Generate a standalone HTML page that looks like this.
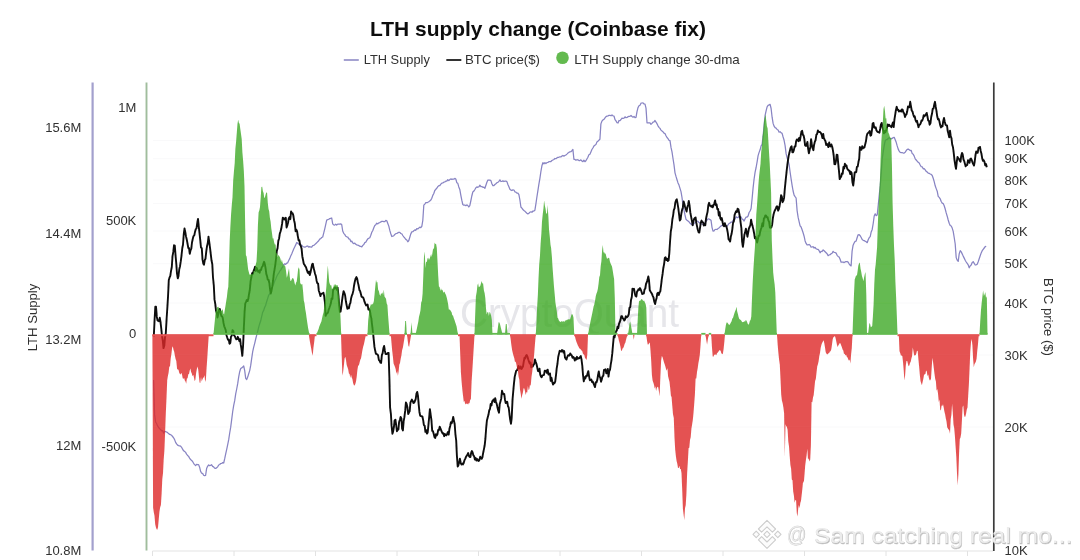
<!DOCTYPE html>
<html><head><meta charset="utf-8"><title>LTH supply change</title>
<style>
html,body{margin:0;padding:0;background:#fff;}
body{width:1080px;height:560px;overflow:hidden;position:relative;font-family:"Liberation Sans",sans-serif;}
svg{position:absolute;left:0;top:0;display:block}
text{font-family:"Liberation Sans",sans-serif;}
.ax{font-size:13px;fill:#303030;}
.lg{font-size:13px;fill:#303030;}
.ttl{font-size:21px;font-weight:700;fill:#111;}
.wm{font-size:40px;fill:#e6e6ea;}
.bw{font-size:22.5px;fill:#ececec;}
.bws{font-size:22.5px;fill:#b9b9b9;stroke:#c9c9c9;stroke-width:0.5px;}
</style></head><body>
<svg width="1080" height="560" viewBox="0 0 1080 560">
<defs><filter id="soft" x="-2%" y="-2%" width="104%" height="104%"><feGaussianBlur stdDeviation="0.55"/></filter></defs>
<rect width="1080" height="560" fill="#fff"/>
<g filter="url(#soft)">
<line x1="153" x2="993" y1="140.5" y2="140.5" stroke="#f9f9fa" stroke-width="1"/><line x1="153" x2="993" y1="158.75" y2="158.75" stroke="#f9f9fa" stroke-width="1"/><line x1="153" x2="993" y1="180" y2="180" stroke="#f9f9fa" stroke-width="1"/><line x1="153" x2="993" y1="203.5" y2="203.5" stroke="#f9f9fa" stroke-width="1"/><line x1="153" x2="993" y1="231" y2="231" stroke="#f9f9fa" stroke-width="1"/><line x1="153" x2="993" y1="263.75" y2="263.75" stroke="#f9f9fa" stroke-width="1"/><line x1="153" x2="993" y1="303" y2="303" stroke="#f9f9fa" stroke-width="1"/><line x1="153" x2="993" y1="355" y2="355" stroke="#f9f9fa" stroke-width="1"/><line x1="153" x2="993" y1="427" y2="427" stroke="#f9f9fa" stroke-width="1"/>
<line x1="152.5" x2="993" y1="551" y2="551" stroke="#e4e4e4" stroke-width="1.2"/>
<line x1="152.5" x2="152.5" y1="551" y2="556" stroke="#e2e2e2" stroke-width="1"/><line x1="234" x2="234" y1="551" y2="556" stroke="#e2e2e2" stroke-width="1"/><line x1="315.5" x2="315.5" y1="551" y2="556" stroke="#e2e2e2" stroke-width="1"/><line x1="397" x2="397" y1="551" y2="556" stroke="#e2e2e2" stroke-width="1"/><line x1="478.5" x2="478.5" y1="551" y2="556" stroke="#e2e2e2" stroke-width="1"/><line x1="560" x2="560" y1="551" y2="556" stroke="#e2e2e2" stroke-width="1"/><line x1="641.5" x2="641.5" y1="551" y2="556" stroke="#e2e2e2" stroke-width="1"/><line x1="723" x2="723" y1="551" y2="556" stroke="#e2e2e2" stroke-width="1"/><line x1="804.5" x2="804.5" y1="551" y2="556" stroke="#e2e2e2" stroke-width="1"/><line x1="886" x2="886" y1="551" y2="556" stroke="#e2e2e2" stroke-width="1"/><line x1="967.5" x2="967.5" y1="551" y2="556" stroke="#e2e2e2" stroke-width="1"/>
<text x="460" y="327" class="wm" textLength="219" lengthAdjust="spacingAndGlyphs">CryptoQuant</text>
<path d="M153.6,380.0 L154.6,414.6 L155.6,422.0 L156.6,423.5 L157.6,425.9 L158.6,427.3 L159.6,428.8 L160.6,429.5 L161.6,430.8 L162.6,430.6 L163.6,433.1 L164.6,431.4 L165.6,431.7 L166.6,432.0 L167.6,432.6 L168.6,433.6 L169.6,434.4 L170.6,434.7 L171.6,435.3 L172.6,436.5 L173.6,437.8 L174.6,439.6 L175.6,442.4 L176.6,443.9 L177.6,445.1 L178.6,445.6 L179.6,445.8 L180.6,446.2 L181.6,447.3 L182.6,449.2 L183.6,450.8 L184.6,451.4 L185.6,452.4 L186.6,454.1 L187.6,455.5 L188.6,456.4 L189.6,458.1 L190.6,459.6 L191.6,460.4 L192.6,461.5 L193.6,463.3 L194.6,464.6 L195.6,465.5 L196.6,464.4 L197.6,464.7 L198.6,464.6 L199.6,467.2 L200.6,471.3 L201.6,473.2 L202.6,473.4 L203.6,475.2 L204.6,475.7 L205.6,475.3 L206.6,468.6 L207.6,466.3 L208.6,465.0 L209.6,465.6 L210.6,465.4 L211.6,464.7 L212.6,466.4 L213.6,466.9 L214.6,468.1 L215.6,468.3 L216.6,467.9 L217.6,466.8 L218.7,465.0 L219.7,464.5 L220.7,463.5 L221.7,463.4 L222.7,462.6 L223.7,463.0 L224.7,458.7 L225.7,453.9 L226.7,449.4 L227.7,444.6 L228.7,439.7 L229.7,433.0 L230.7,427.2 L231.7,419.3 L232.7,411.5 L233.7,405.4 L234.7,400.7 L235.7,393.9 L236.7,389.0 L237.7,383.7 L238.7,376.8 L239.7,371.7 L240.7,368.5 L241.7,367.9 L242.7,367.1 L243.7,366.0 L244.7,370.7 L245.7,378.4 L246.7,379.5 L247.7,377.1 L248.7,373.8 L249.7,370.6 L250.7,365.4 L251.7,358.3 L252.7,351.6 L253.7,347.1 L254.7,343.3 L255.7,339.0 L256.7,335.1 L257.7,331.3 L258.7,327.1 L259.7,323.7 L260.7,320.8 L261.7,316.4 L262.7,312.2 L263.7,310.4 L264.7,307.3 L265.7,305.2 L266.7,301.5 L267.7,298.4 L268.7,295.2 L269.7,294.0 L270.7,292.1 L271.7,288.2 L272.7,285.9 L273.7,284.1 L274.7,281.1 L275.7,279.0 L276.7,276.5 L277.7,274.4 L278.7,273.1 L279.7,271.2 L280.7,270.1 L281.7,268.1 L282.7,267.0 L283.7,264.5 L284.7,263.9 L285.7,264.4 L286.7,263.2 L287.7,262.8 L288.7,260.5 L289.7,258.6 L290.7,256.0 L291.7,254.0 L292.7,251.4 L293.7,249.0 L294.7,246.9 L295.7,244.9 L296.7,242.5 L297.7,243.3 L298.7,244.1 L299.7,244.9 L300.7,245.2 L301.7,245.1 L302.7,246.5 L303.7,246.8 L304.7,247.1 L305.7,246.8 L306.7,246.2 L307.7,246.0 L308.7,247.2 L309.7,246.6 L310.7,247.0 L311.7,247.0 L312.7,245.7 L313.7,245.5 L314.7,244.6 L315.7,243.7 L316.7,242.8 L317.7,241.7 L318.7,240.8 L319.7,239.1 L320.7,238.7 L321.7,237.5 L322.7,237.0 L323.7,233.2 L324.7,229.2 L325.7,224.7 L326.7,220.1 L327.7,219.7 L328.7,219.2 L329.7,218.6 L330.7,218.3 L331.7,218.0 L332.7,223.8 L333.7,224.9 L334.7,225.1 L335.7,224.1 L336.7,225.0 L337.7,224.1 L338.7,224.0 L339.7,224.1 L340.7,223.9 L341.7,224.5 L342.7,231.0 L343.7,233.3 L344.7,234.4 L345.8,236.3 L346.8,236.8 L347.8,237.2 L348.8,238.8 L349.8,239.1 L350.8,241.6 L351.8,241.1 L352.8,243.0 L353.8,243.6 L354.8,243.1 L355.8,244.3 L356.8,245.0 L357.8,245.2 L358.8,245.6 L359.8,246.3 L360.8,246.4 L361.8,246.8 L362.8,245.4 L363.8,244.5 L364.8,242.6 L365.8,242.2 L366.8,240.4 L367.8,238.9 L368.8,238.3 L369.8,237.7 L370.8,235.3 L371.8,232.3 L372.8,230.5 L373.8,227.7 L374.8,225.5 L375.8,224.7 L376.8,223.2 L377.8,223.9 L378.8,222.9 L379.8,222.6 L380.8,221.9 L381.8,221.4 L382.8,221.3 L383.8,221.6 L384.8,221.6 L385.8,220.4 L386.8,220.8 L387.8,223.5 L388.8,226.1 L389.8,230.4 L390.8,233.8 L391.8,236.5 L392.8,236.2 L393.8,235.7 L394.8,234.5 L395.8,233.6 L396.8,233.5 L397.8,232.9 L398.8,232.3 L399.8,232.3 L400.8,233.5 L401.8,233.8 L402.8,235.5 L403.8,236.9 L404.8,238.0 L405.8,239.4 L406.8,240.0 L407.8,241.8 L408.8,240.5 L409.8,237.2 L410.8,233.9 L411.8,231.9 L412.8,231.7 L413.8,230.8 L414.8,229.9 L415.8,230.3 L416.8,228.6 L417.8,228.9 L418.8,228.1 L419.8,227.1 L420.8,227.7 L421.8,226.3 L422.8,220.5 L423.8,205.2 L424.8,204.1 L425.8,202.7 L426.8,202.6 L427.8,202.3 L428.8,201.8 L429.8,200.9 L430.8,200.1 L431.8,198.2 L432.8,195.4 L433.8,193.5 L434.8,190.5 L435.8,189.3 L436.8,188.3 L437.8,186.6 L438.8,185.7 L439.8,185.7 L440.8,184.1 L441.8,183.2 L442.8,183.0 L443.8,182.2 L444.8,182.0 L445.8,181.1 L446.8,181.1 L447.8,179.7 L448.8,180.6 L449.8,179.6 L450.8,178.9 L451.8,179.4 L452.8,179.1 L453.8,179.2 L454.8,178.4 L455.8,179.0 L456.8,182.7 L457.8,183.3 L458.8,186.9 L459.8,189.4 L460.8,195.1 L461.8,200.2 L462.8,204.5 L463.8,205.2 L464.8,205.0 L465.8,205.7 L466.8,204.9 L467.8,205.5 L468.8,207.0 L469.8,205.6 L470.8,201.0 L471.8,196.0 L472.8,192.0 L473.9,191.1 L474.9,189.5 L475.9,187.8 L476.9,186.9 L477.9,187.3 L478.9,186.8 L479.9,185.2 L480.9,186.6 L481.9,186.5 L482.9,187.4 L483.9,187.2 L484.9,188.3 L485.9,185.3 L486.9,182.3 L487.9,180.1 L488.9,180.0 L489.9,180.2 L490.9,180.6 L491.9,183.7 L492.9,185.6 L493.9,185.7 L494.9,184.5 L495.9,183.7 L496.9,182.7 L497.9,182.2 L498.9,181.5 L499.9,179.8 L500.9,181.5 L501.9,181.3 L502.9,180.9 L503.9,181.5 L504.9,181.2 L505.9,181.2 L506.9,181.6 L507.9,184.5 L508.9,186.8 L509.9,189.2 L510.9,190.1 L511.9,190.5 L512.9,189.9 L513.9,190.0 L514.9,191.8 L515.9,192.1 L516.9,193.1 L517.9,193.2 L518.9,194.7 L519.9,200.0 L520.9,207.0 L521.9,208.2 L522.9,209.5 L523.9,210.5 L524.9,211.2 L525.9,212.3 L526.9,213.2 L527.9,213.9 L528.9,213.3 L529.9,212.3 L530.9,211.8 L531.9,212.3 L532.9,211.0 L533.9,211.0 L534.9,210.2 L535.9,203.8 L536.9,197.0 L537.9,190.7 L538.9,184.2 L539.9,178.4 L540.9,171.5 L541.9,165.8 L542.9,162.7 L543.9,163.9 L544.9,162.6 L545.9,163.5 L546.9,162.6 L547.9,162.5 L548.9,161.6 L549.9,161.5 L550.9,161.5 L551.9,160.5 L552.9,160.0 L553.9,159.5 L554.9,158.5 L555.9,158.7 L556.9,157.9 L557.9,157.3 L558.9,157.3 L559.9,156.8 L560.9,156.9 L561.9,156.1 L562.9,155.5 L563.9,156.1 L564.9,155.5 L565.9,155.0 L566.9,154.1 L567.9,153.1 L568.9,152.4 L569.9,151.8 L570.9,151.7 L571.9,150.7 L572.9,149.4 L573.9,159.3 L574.9,159.4 L575.9,160.2 L576.9,159.7 L577.9,159.8 L578.9,160.5 L579.9,160.5 L580.9,159.8 L581.9,161.0 L582.9,161.7 L583.9,160.2 L584.9,161.7 L585.9,160.7 L586.9,159.0 L587.9,157.3 L588.9,154.8 L589.9,154.2 L590.9,151.9 L591.9,149.5 L592.9,148.0 L593.9,146.1 L594.9,145.3 L595.9,144.6 L596.9,142.0 L597.9,141.3 L598.9,140.2 L599.9,139.3 L600.9,123.9 L601.9,121.2 L603.0,119.9 L604.0,119.3 L605.0,117.8 L606.0,116.6 L607.0,116.1 L608.0,115.8 L609.0,115.4 L610.0,115.3 L611.0,115.8 L612.0,114.9 L613.0,115.9 L614.0,116.0 L615.0,119.6 L616.0,120.9 L617.0,122.7 L618.0,123.0 L619.0,120.5 L620.0,120.6 L621.0,119.5 L622.0,118.1 L623.0,118.5 L624.0,118.2 L625.0,116.8 L626.0,117.7 L627.0,117.5 L628.0,116.7 L629.0,116.3 L630.0,116.4 L631.0,115.5 L632.0,116.5 L633.0,117.2 L634.0,116.4 L635.0,117.7 L636.0,117.3 L637.0,111.7 L638.0,107.6 L639.0,105.8 L640.0,105.2 L641.0,103.2 L642.0,103.0 L643.0,102.8 L644.0,104.0 L645.0,104.2 L646.0,108.1 L647.0,122.8 L648.0,122.9 L649.0,122.9 L650.0,122.9 L651.0,124.3 L652.0,123.4 L653.0,122.2 L654.0,121.8 L655.0,120.5 L656.0,122.1 L657.0,123.7 L658.0,125.8 L659.0,127.3 L660.0,128.4 L661.0,130.1 L662.0,131.1 L663.0,131.8 L664.0,133.2 L665.0,133.6 L666.0,135.7 L667.0,137.5 L668.0,138.6 L669.0,140.3 L670.0,140.7 L671.0,147.4 L672.0,151.9 L673.0,158.5 L674.0,164.9 L675.0,172.8 L676.0,176.4 L677.0,179.7 L678.0,182.9 L679.0,185.1 L680.0,188.4 L681.0,191.6 L682.0,197.5 L683.0,205.6 L684.0,210.2 L685.0,215.0 L686.0,219.3 L687.0,220.2 L688.0,221.0 L689.0,221.8 L690.0,223.2 L691.0,224.0 L692.0,224.9 L693.0,225.1 L694.0,223.2 L695.0,222.9 L696.0,222.4 L697.0,221.0 L698.0,221.3 L699.0,222.6 L700.0,223.3 L701.0,223.9 L702.0,224.0 L703.0,224.5 L704.0,225.0 L705.0,222.7 L706.0,221.4 L707.0,220.1 L708.0,218.8 L709.0,219.0 L710.0,219.6 L711.0,220.2 L712.0,227.3 L713.0,231.1 L714.0,230.9 L715.0,229.5 L716.0,229.4 L717.0,229.5 L718.0,228.6 L719.0,227.9 L720.0,226.9 L721.0,226.0 L722.0,225.4 L723.0,224.7 L724.0,225.6 L725.0,226.6 L726.0,226.1 L727.0,226.2 L728.0,224.9 L729.0,223.5 L730.0,223.1 L731.1,222.0 L732.1,222.0 L733.1,220.2 L734.1,220.3 L735.1,219.0 L736.1,216.8 L737.1,217.6 L738.1,217.6 L739.1,216.2 L740.1,216.8 L741.1,216.9 L742.1,219.1 L743.1,219.6 L744.1,221.1 L745.1,218.7 L746.1,217.0 L747.1,217.0 L748.1,216.0 L749.1,212.5 L750.1,211.0 L751.1,208.5 L752.1,198.7 L753.1,187.9 L754.1,179.0 L755.1,172.2 L756.1,167.5 L757.1,161.9 L758.1,155.6 L759.1,152.4 L760.1,149.8 L761.1,145.9 L762.1,144.4 L763.1,136.2 L764.1,125.1 L765.1,115.4 L766.1,110.8 L767.1,106.8 L768.1,105.4 L769.1,104.9 L770.1,104.3 L771.1,108.5 L772.1,117.2 L773.1,123.4 L774.1,126.2 L775.1,127.7 L776.1,128.1 L777.1,129.5 L778.1,130.0 L779.1,132.2 L780.1,131.7 L781.1,132.8 L782.1,133.4 L783.1,137.0 L784.1,140.3 L785.1,145.7 L786.1,153.7 L787.1,157.8 L788.1,160.7 L789.1,164.7 L790.1,172.0 L791.1,178.8 L792.1,185.3 L793.1,191.0 L794.1,195.1 L795.1,196.6 L796.1,198.0 L797.1,210.6 L798.1,217.2 L799.1,221.6 L800.1,225.9 L801.1,227.0 L802.1,229.8 L803.1,232.8 L804.1,236.2 L805.1,240.9 L806.1,243.4 L807.1,244.9 L808.1,244.9 L809.1,244.5 L810.1,245.2 L811.1,247.1 L812.1,247.0 L813.1,246.7 L814.1,248.1 L815.1,247.3 L816.1,248.8 L817.1,249.3 L818.1,249.3 L819.1,250.7 L820.1,252.8 L821.1,251.3 L822.1,251.5 L823.1,249.9 L824.1,250.8 L825.1,251.8 L826.1,252.8 L827.1,253.8 L828.1,255.6 L829.1,255.0 L830.1,254.7 L831.1,253.7 L832.1,253.2 L833.1,251.3 L834.1,252.4 L835.1,252.5 L836.1,253.1 L837.1,255.3 L838.1,256.4 L839.1,257.1 L840.1,259.3 L841.1,262.2 L842.1,262.0 L843.1,262.0 L844.1,262.6 L845.1,261.9 L846.1,261.6 L847.1,261.5 L848.1,262.1 L849.1,263.8 L850.1,265.2 L851.1,265.9 L852.1,251.1 L853.1,245.2 L854.1,243.0 L855.1,241.4 L856.1,241.1 L857.1,237.8 L858.1,234.8 L859.2,234.7 L860.2,235.7 L861.2,237.5 L862.2,239.6 L863.2,240.3 L864.2,240.6 L865.2,241.2 L866.2,241.8 L867.2,242.7 L868.2,239.8 L869.2,237.7 L870.2,236.6 L871.2,231.9 L872.2,229.4 L873.2,223.5 L874.2,216.0 L875.2,213.8 L876.2,215.6 L877.2,215.0 L878.2,205.5 L879.2,195.5 L880.2,185.9 L881.2,172.9 L882.2,158.8 L883.2,151.9 L884.2,145.7 L885.2,140.6 L886.2,139.7 L887.2,139.7 L888.2,138.5 L889.2,137.6 L890.2,138.7 L891.2,138.9 L892.2,138.4 L893.2,137.6 L894.2,137.3 L895.2,139.7 L896.2,142.3 L897.2,145.9 L898.2,149.1 L899.2,151.1 L900.2,152.3 L901.2,152.6 L902.2,152.7 L903.2,153.0 L904.2,153.0 L905.2,152.3 L906.2,150.6 L907.2,149.3 L908.2,149.1 L909.2,149.8 L910.2,150.6 L911.2,150.4 L912.2,153.6 L913.2,154.3 L914.2,156.1 L915.2,158.8 L916.2,160.0 L917.2,161.2 L918.2,162.2 L919.2,163.0 L920.2,165.0 L921.2,166.7 L922.2,166.8 L923.2,168.8 L924.2,168.7 L925.2,169.9 L926.2,171.4 L927.2,172.0 L928.2,173.1 L929.2,173.3 L930.2,174.0 L931.2,174.4 L932.2,175.5 L933.2,178.2 L934.2,181.6 L935.2,185.8 L936.2,188.6 L937.2,191.2 L938.2,196.4 L939.2,197.4 L940.2,198.8 L941.2,201.5 L942.2,203.1 L943.2,203.6 L944.2,205.7 L945.2,209.0 L946.2,212.9 L947.2,216.2 L948.2,220.0 L949.2,223.3 L950.2,225.5 L951.2,226.0 L952.2,228.1 L953.2,231.4 L954.2,237.5 L955.2,244.0 L956.2,257.6 L957.2,260.2 L958.2,261.4 L959.2,253.9 L960.2,250.6 L961.2,251.9 L962.2,253.9 L963.2,256.1 L964.2,258.1 L965.2,260.2 L966.2,262.0 L967.2,263.4 L968.2,264.9 L969.2,267.8 L970.2,265.9 L971.2,265.0 L972.2,262.5 L973.2,261.7 L974.2,263.3 L975.2,265.0 L976.2,264.8 L977.2,264.2 L978.2,261.8 L979.2,258.7 L980.2,255.8 L981.2,252.9 L982.2,250.7 L983.2,249.3 L984.2,248.0 L985.2,246.7 L986.2,246.3" fill="none" stroke="#8884c3" stroke-width="1.25" stroke-linejoin="round"/>
<path d="M153.8,336.4 L154.5,321.5 L155.3,306.8 L156.0,306.7 L156.8,316.7 L157.5,320.4 L158.3,320.8 L159.0,321.3 L159.8,317.8 L160.5,321.9 L161.3,329.0 L162.0,336.0 L162.8,340.5 L163.5,348.1 L164.3,345.8 L165.0,337.5 L165.8,333.1 L166.5,320.8 L167.3,308.3 L168.0,297.1 L168.8,280.0 L169.5,277.7 L170.3,275.8 L171.0,271.1 L171.8,267.0 L172.5,256.3 L173.3,251.9 L174.0,245.3 L174.8,245.6 L175.5,254.9 L176.3,263.9 L177.0,273.6 L177.8,278.4 L178.5,275.9 L179.3,269.0 L180.0,266.4 L180.8,261.2 L181.5,255.6 L182.3,248.0 L183.0,244.7 L183.8,233.8 L184.5,228.5 L185.3,232.2 L186.0,236.4 L186.8,239.8 L187.5,243.5 L188.3,248.0 L189.0,248.0 L189.8,253.9 L190.5,250.4 L191.3,248.6 L192.0,242.5 L192.8,238.8 L193.5,236.1 L194.3,235.4 L195.0,231.9 L195.8,229.1 L196.5,228.4 L197.3,222.6 L198.0,218.9 L198.8,227.0 L199.5,232.8 L200.3,240.7 L201.0,247.6 L201.8,248.2 L202.5,259.4 L203.3,263.7 L204.0,264.7 L204.8,259.9 L205.5,258.7 L206.3,251.2 L207.0,246.3 L207.8,243.0 L208.5,236.7 L209.3,242.5 L210.0,247.6 L210.8,254.3 L211.5,260.3 L212.3,264.3 L213.0,277.5 L213.8,285.3 L214.5,299.4 L215.3,304.1 L216.0,310.7 L216.8,312.8 L217.5,317.5 L218.3,314.2 L219.0,309.7 L219.8,309.0 L220.5,312.3 L221.3,316.1 L222.0,316.1 L222.8,318.1 L223.5,322.9 L224.3,326.5 L225.0,328.2 L225.8,330.4 L226.5,335.2 L227.3,337.8 L228.0,339.8 L228.8,339.8 L229.5,343.7 L230.3,343.0 L231.0,336.7 L231.8,335.5 L232.5,330.3 L233.3,331.0 L234.0,335.4 L234.8,336.1 L235.5,337.8 L236.3,339.4 L237.1,339.2 L237.8,336.8 L238.6,338.6 L239.3,341.0 L240.1,339.2 L240.8,344.9 L241.6,349.9 L242.3,355.9 L243.1,345.3 L243.8,328.9 L244.6,311.6 L245.3,303.4 L246.1,301.9 L246.8,299.9 L247.6,301.1 L248.3,298.8 L249.1,293.7 L249.8,290.0 L250.6,281.1 L251.3,277.8 L252.1,273.2 L252.8,273.9 L253.6,271.0 L254.3,269.5 L255.1,266.6 L255.8,271.0 L256.6,268.0 L257.3,269.5 L258.1,271.7 L258.8,270.9 L259.6,272.7 L260.3,269.7 L261.1,270.0 L261.8,267.1 L262.6,266.4 L263.3,263.9 L264.1,261.8 L264.8,264.1 L265.6,268.3 L266.3,273.9 L267.1,276.4 L267.8,279.7 L268.6,279.9 L269.3,282.7 L270.1,289.5 L270.8,293.6 L271.6,290.2 L272.3,286.4 L273.1,280.5 L273.8,273.9 L274.6,269.2 L275.3,264.8 L276.1,258.0 L276.8,251.0 L277.6,248.0 L278.3,241.1 L279.1,238.4 L279.8,233.6 L280.6,231.3 L281.3,228.6 L282.1,223.7 L282.8,217.6 L283.6,218.5 L284.3,219.5 L285.1,218.3 L285.8,217.8 L286.6,227.5 L287.3,225.4 L288.1,222.4 L288.8,218.2 L289.6,217.1 L290.3,219.2 L291.1,211.4 L291.8,213.3 L292.6,213.2 L293.3,215.4 L294.1,220.5 L294.8,223.3 L295.6,231.2 L296.3,229.6 L297.1,231.4 L297.8,236.1 L298.6,240.2 L299.3,240.3 L300.1,244.5 L300.8,245.9 L301.6,248.7 L302.3,256.2 L303.1,260.2 L303.8,263.9 L304.6,264.8 L305.3,266.3 L306.1,267.4 L306.8,269.9 L307.6,272.2 L308.3,273.3 L309.1,271.6 L309.8,275.0 L310.6,272.1 L311.3,268.4 L312.1,264.5 L312.8,263.7 L313.6,268.1 L314.3,270.6 L315.1,274.0 L315.8,275.8 L316.6,280.7 L317.3,283.2 L318.1,283.6 L318.8,290.7 L319.6,292.9 L320.4,296.1 L321.1,294.0 L321.9,293.6 L322.6,293.6 L323.4,292.7 L324.1,295.8 L324.9,302.2 L325.6,315.8 L326.4,314.1 L327.1,313.6 L327.9,312.7 L328.6,309.9 L329.4,307.8 L330.1,305.7 L330.9,303.1 L331.6,298.5 L332.4,299.0 L333.1,290.1 L333.9,289.0 L334.6,287.9 L335.4,287.4 L336.1,288.4 L336.9,289.8 L337.6,287.6 L338.4,295.1 L339.1,304.7 L339.9,311.9 L340.6,311.7 L341.4,305.8 L342.1,300.2 L342.9,294.8 L343.6,291.1 L344.4,293.0 L345.1,295.3 L345.9,301.3 L346.6,305.0 L347.4,308.9 L348.1,307.5 L348.9,308.3 L349.6,304.7 L350.4,302.8 L351.1,298.3 L351.9,295.4 L352.6,293.9 L353.4,290.4 L354.1,285.2 L354.9,281.2 L355.6,278.6 L356.4,277.1 L357.1,278.5 L357.9,282.6 L358.6,285.5 L359.4,290.0 L360.1,291.1 L360.9,294.0 L361.6,296.8 L362.4,297.3 L363.1,297.4 L363.9,299.4 L364.6,301.9 L365.4,303.8 L366.1,305.4 L366.9,305.1 L367.6,304.5 L368.4,309.6 L369.1,309.1 L369.9,310.4 L370.6,315.1 L371.4,318.6 L372.1,325.2 L372.9,331.5 L373.6,338.1 L374.4,346.4 L375.1,350.3 L375.9,353.8 L376.6,353.9 L377.4,354.5 L378.1,355.3 L378.9,360.1 L379.6,360.7 L380.4,362.7 L381.1,363.0 L381.9,354.9 L382.6,353.3 L383.4,348.2 L384.1,346.0 L384.9,350.9 L385.6,354.0 L386.4,354.0 L387.1,353.8 L387.9,352.9 L388.6,352.9 L389.4,378.8 L390.1,407.6 L390.9,413.8 L391.6,425.9 L392.4,433.7 L393.1,431.7 L393.9,427.1 L394.6,420.4 L395.4,419.7 L396.1,424.5 L396.9,431.2 L397.6,430.2 L398.4,429.3 L399.1,422.1 L399.9,419.8 L400.6,417.0 L401.4,418.4 L402.1,428.7 L402.9,430.4 L403.6,421.6 L404.4,417.2 L405.2,410.7 L405.9,402.5 L406.7,404.2 L407.4,407.1 L408.2,414.0 L408.9,412.7 L409.7,411.1 L410.4,402.6 L411.2,401.0 L411.9,399.6 L412.7,401.0 L413.4,403.0 L414.2,402.6 L414.9,401.0 L415.7,399.1 L416.4,393.8 L417.2,391.9 L417.9,395.4 L418.7,404.4 L419.4,411.7 L420.2,415.7 L420.9,416.1 L421.7,416.2 L422.4,416.5 L423.2,420.4 L423.9,425.1 L424.7,425.8 L425.4,431.9 L426.2,430.2 L426.9,433.6 L427.7,432.4 L428.4,425.3 L429.2,416.8 L429.9,409.2 L430.7,415.0 L431.4,419.8 L432.2,430.9 L432.9,431.1 L433.7,433.7 L434.4,436.9 L435.2,438.0 L435.9,434.1 L436.7,435.4 L437.4,434.4 L438.2,429.9 L438.9,430.2 L439.7,426.6 L440.4,428.3 L441.2,430.4 L441.9,432.0 L442.7,433.5 L443.4,433.3 L444.2,436.2 L444.9,434.0 L445.7,435.0 L446.4,435.3 L447.2,433.7 L447.9,432.1 L448.7,434.6 L449.4,429.1 L450.2,426.0 L450.9,422.3 L451.7,423.2 L452.4,420.9 L453.2,417.0 L453.9,420.5 L454.7,424.2 L455.4,434.0 L456.2,440.7 L456.9,455.6 L457.7,466.5 L458.4,465.2 L459.2,462.1 L459.9,458.6 L460.7,462.8 L461.4,464.5 L462.2,463.5 L462.9,464.4 L463.7,463.1 L464.4,460.4 L465.2,458.9 L465.9,457.1 L466.7,455.8 L467.4,454.8 L468.2,453.0 L468.9,455.9 L469.7,457.0 L470.4,457.0 L471.2,452.6 L471.9,451.0 L472.7,452.7 L473.4,455.4 L474.2,456.4 L474.9,459.6 L475.7,458.1 L476.4,460.5 L477.2,459.0 L477.9,460.5 L478.7,461.0 L479.4,459.9 L480.2,456.7 L480.9,457.8 L481.7,458.8 L482.4,457.4 L483.2,452.7 L483.9,449.4 L484.7,445.3 L485.4,438.7 L486.2,427.8 L486.9,420.6 L487.7,417.5 L488.5,414.6 L489.2,410.5 L490.0,408.8 L490.7,403.9 L491.5,405.4 L492.2,401.4 L493.0,400.4 L493.7,399.4 L494.5,402.0 L495.2,398.1 L496.0,402.0 L496.7,403.9 L497.5,407.6 L498.2,410.4 L499.0,412.7 L499.7,404.2 L500.5,401.3 L501.2,398.7 L502.0,390.8 L502.7,393.0 L503.5,394.2 L504.2,393.9 L505.0,399.7 L505.7,403.1 L506.5,402.2 L507.2,401.7 L508.0,406.3 L508.7,407.5 L509.5,414.3 L510.2,419.8 L511.0,423.7 L511.7,417.8 L512.5,400.2 L513.2,391.9 L514.0,383.1 L514.7,376.9 L515.5,373.5 L516.2,370.8 L517.0,370.3 L517.7,368.5 L518.5,366.0 L519.2,368.4 L520.0,368.5 L520.7,366.5 L521.5,368.9 L522.2,367.7 L523.0,366.4 L523.7,361.9 L524.5,357.7 L525.2,358.6 L526.0,355.6 L526.7,355.0 L527.5,356.8 L528.2,359.2 L529.0,361.7 L529.7,363.4 L530.5,362.5 L531.2,367.3 L532.0,364.8 L532.7,366.5 L533.5,364.8 L534.2,363.9 L535.0,359.4 L535.7,361.8 L536.5,364.0 L537.2,367.3 L538.0,371.1 L538.7,371.2 L539.5,368.7 L540.2,374.4 L541.0,376.6 L541.7,377.2 L542.5,375.4 L543.2,375.2 L544.0,374.8 L544.7,370.8 L545.5,371.5 L546.2,370.6 L547.0,372.9 L547.7,369.6 L548.5,374.6 L549.2,374.1 L550.0,373.4 L550.7,380.8 L551.5,377.8 L552.2,381.5 L553.0,384.6 L553.7,382.8 L554.5,383.2 L555.2,381.6 L556.0,375.2 L556.7,368.3 L557.5,363.5 L558.2,357.0 L559.0,353.6 L559.7,350.8 L560.5,351.1 L561.2,351.6 L562.0,350.0 L562.7,350.4 L563.5,352.6 L564.2,351.0 L565.0,357.6 L565.7,358.8 L566.5,359.5 L567.2,357.1 L568.0,355.4 L568.7,355.1 L569.5,355.6 L570.2,353.5 L571.0,354.6 L571.8,355.4 L572.5,357.8 L573.3,357.0 L574.0,357.8 L574.8,360.5 L575.5,358.2 L576.3,359.4 L577.0,356.8 L577.8,358.7 L578.5,358.2 L579.3,358.2 L580.0,357.1 L580.8,356.1 L581.5,359.4 L582.3,365.9 L583.0,374.8 L583.8,381.3 L584.5,377.1 L585.3,378.6 L586.0,375.9 L586.8,376.2 L587.5,373.7 L588.3,371.1 L589.0,375.8 L589.8,380.2 L590.5,379.9 L591.3,379.5 L592.0,382.0 L592.8,381.6 L593.5,383.4 L594.3,385.3 L595.0,387.1 L595.8,382.2 L596.5,382.4 L597.3,379.9 L598.0,375.3 L598.8,371.4 L599.5,376.5 L600.3,377.7 L601.0,381.7 L601.8,379.4 L602.5,376.5 L603.3,375.8 L604.0,369.8 L604.8,369.6 L605.5,369.2 L606.3,373.4 L607.0,372.9 L607.8,368.9 L608.5,376.6 L609.3,371.1 L610.0,369.8 L610.8,364.2 L611.5,360.1 L612.3,353.2 L613.0,345.0 L613.8,336.1 L614.5,337.5 L615.3,334.0 L616.0,331.4 L616.8,330.5 L617.5,326.7 L618.3,328.2 L619.0,323.8 L619.8,322.0 L620.5,319.9 L621.3,316.2 L622.0,316.1 L622.8,318.4 L623.5,318.8 L624.3,320.5 L625.0,319.4 L625.8,316.2 L626.5,317.5 L627.3,316.9 L628.0,316.2 L628.8,314.1 L629.5,307.7 L630.3,307.0 L631.0,300.1 L631.8,297.0 L632.5,288.6 L633.3,289.3 L634.0,288.8 L634.8,293.2 L635.5,295.9 L636.3,296.6 L637.0,291.8 L637.8,290.6 L638.5,289.2 L639.3,289.9 L640.0,288.1 L640.8,289.7 L641.5,291.8 L642.3,294.1 L643.0,293.6 L643.8,293.6 L644.5,289.6 L645.3,288.5 L646.0,284.0 L646.8,282.2 L647.5,280.1 L648.3,276.4 L649.0,280.2 L649.8,290.3 L650.5,291.5 L651.3,292.7 L652.0,293.9 L652.8,296.1 L653.5,297.5 L654.3,301.8 L655.1,304.0 L655.8,300.7 L656.6,297.9 L657.3,293.4 L658.1,292.7 L658.8,295.1 L659.6,292.4 L660.3,291.5 L661.1,285.2 L661.8,279.2 L662.6,273.9 L663.3,268.2 L664.1,264.1 L664.8,258.0 L665.6,257.3 L666.3,260.1 L667.1,258.7 L667.8,261.0 L668.6,260.3 L669.3,253.4 L670.1,240.8 L670.8,231.4 L671.6,227.0 L672.3,219.8 L673.1,215.6 L673.8,210.1 L674.6,208.2 L675.3,202.5 L676.1,200.2 L676.8,199.3 L677.6,203.8 L678.3,208.1 L679.1,214.6 L679.8,220.5 L680.6,219.3 L681.3,213.9 L682.1,209.7 L682.8,207.7 L683.6,201.4 L684.3,203.7 L685.1,207.0 L685.8,209.3 L686.6,211.5 L687.3,207.3 L688.1,204.7 L688.8,200.9 L689.6,205.9 L690.3,212.4 L691.1,216.7 L691.8,220.1 L692.6,225.2 L693.3,221.9 L694.1,218.9 L694.8,218.0 L695.6,217.4 L696.3,222.6 L697.1,226.6 L697.8,229.7 L698.6,232.3 L699.3,232.5 L700.1,227.4 L700.8,222.6 L701.6,220.6 L702.3,222.1 L703.1,222.3 L703.8,225.5 L704.6,224.0 L705.3,225.2 L706.1,218.2 L706.8,215.0 L707.6,211.6 L708.3,205.3 L709.1,202.8 L709.8,205.6 L710.6,205.8 L711.3,206.7 L712.1,205.6 L712.8,207.3 L713.6,205.0 L714.3,203.6 L715.1,200.4 L715.8,205.2 L716.6,204.5 L717.3,209.2 L718.1,208.9 L718.8,215.5 L719.6,212.2 L720.3,218.4 L721.1,219.8 L721.8,218.1 L722.6,222.2 L723.3,225.6 L724.1,226.2 L724.8,223.1 L725.6,225.8 L726.3,226.1 L727.1,229.3 L727.8,232.9 L728.6,239.5 L729.3,240.0 L730.1,241.5 L730.8,236.8 L731.6,233.8 L732.3,229.3 L733.1,222.5 L733.8,221.6 L734.6,214.9 L735.3,213.1 L736.1,211.2 L736.9,212.1 L737.6,208.7 L738.4,209.3 L739.1,212.8 L739.9,216.7 L740.6,222.3 L741.4,228.4 L742.1,241.5 L742.9,246.9 L743.6,241.7 L744.4,234.7 L745.1,232.4 L745.9,228.7 L746.6,231.8 L747.4,236.7 L748.1,233.1 L748.9,228.5 L749.6,227.0 L750.4,225.0 L751.1,219.7 L751.9,223.9 L752.6,226.1 L753.4,229.6 L754.1,233.2 L754.9,238.4 L755.6,237.0 L756.4,239.6 L757.1,242.6 L757.9,239.2 L758.6,235.7 L759.4,235.8 L760.1,232.0 L760.9,229.3 L761.6,227.2 L762.4,223.1 L763.1,226.2 L763.9,218.3 L764.6,217.9 L765.4,215.4 L766.1,215.7 L766.9,217.3 L767.6,217.1 L768.4,220.6 L769.1,221.7 L769.9,227.7 L770.6,227.9 L771.4,227.3 L772.1,224.9 L772.9,218.0 L773.6,214.2 L774.4,211.4 L775.1,210.0 L775.9,208.4 L776.6,206.5 L777.4,206.4 L778.1,210.7 L778.9,209.1 L779.6,205.9 L780.4,201.1 L781.1,195.1 L781.9,196.8 L782.6,202.2 L783.4,200.5 L784.1,197.7 L784.9,187.9 L785.6,181.0 L786.4,173.3 L787.1,167.0 L787.9,160.8 L788.6,156.1 L789.4,152.7 L790.1,150.0 L790.9,147.1 L791.6,146.3 L792.4,152.3 L793.1,152.3 L793.9,149.9 L794.6,146.4 L795.4,146.6 L796.1,141.3 L796.9,139.4 L797.6,139.6 L798.4,141.2 L799.1,137.9 L799.9,140.6 L800.6,136.4 L801.4,131.6 L802.1,130.8 L802.9,134.8 L803.6,135.5 L804.4,139.3 L805.1,145.5 L805.9,145.9 L806.6,144.7 L807.4,142.0 L808.1,148.5 L808.9,153.3 L809.6,150.0 L810.4,146.9 L811.1,139.1 L811.9,145.1 L812.6,148.1 L813.4,150.2 L814.1,144.7 L814.9,141.6 L815.6,140.0 L816.4,134.7 L817.1,134.0 L817.9,130.5 L818.6,131.8 L819.4,132.0 L820.1,132.0 L820.9,133.0 L821.7,134.8 L822.4,138.1 L823.2,133.9 L823.9,138.3 L824.7,139.8 L825.4,141.0 L826.2,145.0 L826.9,143.8 L827.7,145.1 L828.4,147.1 L829.2,142.5 L829.9,146.0 L830.7,146.4 L831.4,144.5 L832.2,146.8 L832.9,150.1 L833.7,155.5 L834.4,164.1 L835.2,164.3 L835.9,161.5 L836.7,154.6 L837.4,154.8 L838.2,163.3 L838.9,170.2 L839.7,179.1 L840.4,177.5 L841.2,176.6 L841.9,173.5 L842.7,173.7 L843.4,167.0 L844.2,168.5 L844.9,163.7 L845.7,166.0 L846.4,165.3 L847.2,168.6 L847.9,169.7 L848.7,170.5 L849.4,170.7 L850.2,174.1 L850.9,171.8 L851.7,173.3 L852.4,181.9 L853.2,185.6 L853.9,180.1 L854.7,172.4 L855.4,172.2 L856.2,172.2 L856.9,166.8 L857.7,166.6 L858.4,162.3 L859.2,158.7 L859.9,146.9 L860.7,149.6 L861.4,149.7 L862.2,146.1 L862.9,148.3 L863.7,147.4 L864.4,147.6 L865.2,144.3 L865.9,141.6 L866.7,136.0 L867.4,133.6 L868.2,132.8 L868.9,132.3 L869.7,131.0 L870.4,135.7 L871.2,135.2 L871.9,130.5 L872.7,123.4 L873.4,122.9 L874.2,127.5 L874.9,127.9 L875.7,127.3 L876.4,130.2 L877.2,131.5 L877.9,132.1 L878.7,132.1 L879.4,132.7 L880.2,128.7 L880.9,124.6 L881.7,122.9 L882.4,126.9 L883.2,130.4 L883.9,133.4 L884.7,130.9 L885.4,132.3 L886.2,130.1 L886.9,128.1 L887.7,124.4 L888.4,126.0 L889.2,124.8 L889.9,126.0 L890.7,126.2 L891.4,127.2 L892.2,124.7 L892.9,122.5 L893.7,127.1 L894.4,119.9 L895.2,114.6 L895.9,110.1 L896.7,106.8 L897.4,109.8 L898.2,109.6 L898.9,111.5 L899.7,110.9 L900.4,110.7 L901.2,111.5 L901.9,109.4 L902.7,109.9 L903.5,112.7 L904.2,113.2 L905.0,117.0 L905.7,115.0 L906.5,114.4 L907.2,111.3 L908.0,106.5 L908.7,107.3 L909.5,107.2 L910.2,101.8 L911.0,106.4 L911.7,110.5 L912.5,111.6 L913.2,114.3 L914.0,116.7 L914.7,116.2 L915.5,120.0 L916.2,121.7 L917.0,120.8 L917.7,124.1 L918.5,127.2 L919.2,125.0 L920.0,124.4 L920.7,123.2 L921.5,120.4 L922.2,120.7 L923.0,118.5 L923.7,115.2 L924.5,116.2 L925.2,115.4 L926.0,114.1 L926.7,112.9 L927.5,116.8 L928.2,120.5 L929.0,121.1 L929.7,124.7 L930.5,123.0 L931.2,117.0 L932.0,113.8 L932.7,108.9 L933.5,108.6 L934.2,104.7 L935.0,101.8 L935.7,106.7 L936.5,111.2 L937.2,116.3 L938.0,119.4 L938.7,119.0 L939.5,121.8 L940.2,125.2 L941.0,127.4 L941.7,125.7 L942.5,126.4 L943.2,121.2 L944.0,118.0 L944.7,121.5 L945.5,124.6 L946.2,125.4 L947.0,125.4 L947.7,131.0 L948.5,134.0 L949.2,137.4 L950.0,130.6 L950.7,136.1 L951.5,138.3 L952.2,144.5 L953.0,147.3 L953.7,152.6 L954.5,160.1 L955.2,164.7 L956.0,168.8 L956.7,162.3 L957.5,157.0 L958.2,158.3 L959.0,159.0 L959.7,160.7 L960.5,161.8 L961.2,155.9 L962.0,152.9 L962.7,154.5 L963.5,159.5 L964.2,161.1 L965.0,164.0 L965.7,166.4 L966.5,164.9 L967.2,165.1 L968.0,160.1 L968.7,162.1 L969.5,162.8 L970.2,159.1 L971.0,158.6 L971.7,160.0 L972.5,162.4 L973.2,164.1 L974.0,165.5 L974.7,161.6 L975.5,155.0 L976.2,151.5 L977.0,152.8 L977.7,152.8 L978.5,147.7 L979.2,148.1 L980.0,146.9 L980.7,151.0 L981.5,154.0 L982.2,158.4 L983.0,160.9 L983.7,160.2 L984.5,161.9 L985.2,165.3 L986.0,164.1 L986.8,167.3" fill="none" stroke="#0d0d0d" stroke-width="1.9" stroke-linejoin="round"/>
<g fill="#3da924" fill-opacity="0.8"><path d="M213.5,334.5 L213.5,334.5 L214.2,326.9 L214.9,320.0 L215.6,312.1 L216.3,310.5 L217.0,307.6 L217.7,306.9 L218.4,306.7 L219.1,308.7 L219.8,310.1 L220.6,310.4 L221.3,310.7 L222.0,310.5 L222.7,308.9 L223.4,313.5 L224.1,314.5 L224.8,310.1 L225.5,305.7 L226.2,301.3 L226.9,297.0 L227.6,290.5 L228.3,286.8 L229.0,266.6 L229.7,240.9 L230.4,226.3 L231.1,214.0 L231.8,205.1 L232.5,197.3 L233.2,180.4 L233.9,172.1 L234.7,163.3 L235.4,148.6 L236.1,141.7 L236.8,132.7 L237.5,123.7 L238.2,119.7 L238.9,122.9 L239.6,123.8 L240.3,129.0 L241.0,133.9 L241.7,139.0 L242.4,152.4 L243.1,160.6 L243.8,170.6 L244.5,186.6 L245.2,227.5 L245.9,255.2 L246.6,256.5 L247.3,262.2 L248.1,269.2 L248.8,272.0 L249.5,274.8 L250.2,274.3 L250.9,274.9 L251.6,273.6 L252.3,273.9 L253.0,274.5 L253.7,270.3 L254.4,271.9 L255.1,267.4 L255.8,264.3 L256.5,261.6 L257.2,249.2 L257.9,225.4 L258.6,212.4 L259.3,210.6 L260.0,207.0 L260.7,197.6 L261.4,186.9 L262.2,186.8 L262.9,191.3 L263.6,192.9 L264.3,198.3 L265.0,197.0 L265.7,194.2 L266.4,192.2 L267.1,193.0 L267.8,202.9 L268.5,209.0 L269.2,211.3 L269.9,218.1 L270.6,221.5 L271.3,228.5 L272.0,233.2 L272.7,238.5 L273.4,238.2 L274.1,242.2 L274.8,244.6 L275.6,244.4 L276.3,253.7 L277.0,252.8 L277.7,257.2 L278.4,254.7 L279.1,255.9 L279.8,257.0 L280.5,259.0 L281.2,262.3 L281.9,259.5 L282.6,262.8 L283.3,264.4 L284.0,266.4 L284.7,264.6 L285.4,266.9 L286.1,271.5 L286.8,277.7 L287.5,275.5 L288.2,271.9 L289.0,268.2 L289.7,276.3 L290.4,280.9 L291.1,280.8 L291.8,279.3 L292.5,277.9 L293.2,278.2 L293.9,279.8 L294.6,283.0 L295.3,285.6 L296.0,282.8 L296.7,281.5 L297.4,276.2 L298.1,269.3 L298.8,267.2 L299.5,269.8 L300.2,282.7 L300.9,284.2 L301.6,284.4 L302.3,284.0 L303.1,291.7 L303.8,300.4 L304.5,303.2 L305.2,309.0 L305.9,312.7 L306.6,317.9 L307.3,322.8 L308.0,327.5 L308.7,330.9 L309.4,334.5 L309.4,334.5 Z"/><path d="M316.5,334.5 L316.5,334.5 L317.2,332.5 L317.9,330.8 L318.6,328.9 L319.3,326.6 L320.0,324.8 L320.7,323.1 L321.4,321.4 L322.1,318.1 L322.9,314.6 L323.6,312.2 L324.3,305.8 L325.0,300.6 L325.7,293.5 L326.4,286.5 L327.1,275.5 L327.8,265.5 L328.5,273.4 L329.2,281.9 L329.9,284.2 L330.6,285.4 L331.3,285.3 L332.0,289.7 L332.7,288.1 L333.4,287.1 L334.1,284.1 L334.8,285.7 L335.6,284.1 L336.3,285.8 L337.0,284.7 L337.7,285.5 L338.4,291.0 L339.1,297.5 L339.8,303.8 L340.5,317.7 L341.2,334.5 L341.2,334.5 Z"/><path d="M367.5,334.5 L367.5,334.5 L368.2,320.6 L368.9,314.6 L369.6,307.3 L370.3,306.3 L371.0,303.8 L371.8,304.9 L372.5,304.1 L373.2,303.5 L373.9,301.0 L374.6,293.9 L375.3,286.5 L376.0,279.8 L376.7,282.5 L377.4,281.9 L378.1,289.4 L378.9,291.2 L379.6,294.4 L380.3,296.1 L381.0,293.6 L381.7,293.8 L382.4,292.3 L383.1,295.2 L383.8,289.4 L384.5,296.6 L385.2,297.4 L386.0,298.8 L386.7,303.6 L387.4,305.1 L388.1,315.7 L388.8,324.5 L389.5,334.5 L389.5,334.5 Z"/><path d="M404.5,334.5 L404.5,334.5 L405.2,321.1 L406.0,321.1 L406.8,334.5 L406.8,334.5 Z"/><path d="M410.5,334.5 L410.5,334.5 L411.5,322.4 L412.5,334.5 L412.5,334.5 Z"/><path d="M415.5,334.5 L415.5,334.5 L416.2,331.4 L416.9,328.6 L417.6,325.1 L418.3,321.7 L419.0,316.7 L419.8,313.7 L420.5,310.2 L421.2,302.4 L421.9,300.8 L422.6,293.7 L423.3,275.9 L424.0,256.5 L424.7,251.6 L425.4,268.3 L426.1,261.5 L426.8,262.2 L427.5,258.4 L428.2,257.7 L429.0,260.0 L429.7,258.4 L430.4,256.6 L431.1,254.1 L431.8,257.0 L432.5,252.6 L433.2,248.0 L433.9,249.5 L434.6,242.6 L435.3,244.2 L436.0,243.6 L436.8,248.0 L437.5,261.3 L438.2,275.5 L438.9,286.5 L439.6,286.9 L440.3,291.1 L441.0,288.3 L441.7,290.2 L442.4,289.7 L443.1,291.7 L443.8,292.8 L444.5,291.5 L445.2,293.6 L446.0,294.9 L446.7,297.4 L447.4,300.5 L448.1,304.1 L448.8,309.5 L449.5,309.6 L450.2,310.0 L450.9,311.3 L451.6,312.3 L452.3,315.2 L453.0,315.4 L453.8,318.3 L454.5,320.0 L455.2,322.3 L455.9,324.2 L456.6,326.5 L457.3,330.7 L458.0,334.5 L458.0,334.5 Z"/><path d="M474.5,334.5 L474.5,334.5 L475.2,314.2 L475.9,296.6 L476.7,292.0 L477.4,285.5 L478.1,283.3 L478.8,287.2 L479.5,286.7 L480.3,285.8 L481.0,283.3 L481.7,281.1 L482.4,283.5 L483.1,283.5 L483.9,290.4 L484.6,293.1 L485.3,297.9 L486.0,308.6 L486.7,314.6 L487.5,311.9 L488.2,312.3 L488.9,316.1 L489.6,311.7 L490.3,313.0 L491.1,315.6 L491.8,319.7 L492.5,334.5 L492.5,334.5 Z"/><path d="M497.0,334.5 L497.0,334.5 L497.8,328.4 L498.6,322.2 L499.4,322.4 L500.1,324.6 L500.9,328.0 L501.7,330.9 L502.5,334.5 L502.5,334.5 Z"/><path d="M505.0,334.5 L505.0,334.5 L505.8,323.9 L506.7,323.9 L507.5,334.5 L507.5,334.5 Z"/><path d="M535.8,334.5 L535.8,334.5 L536.5,321.8 L537.1,308.1 L537.9,294.3 L538.5,279.0 L539.2,264.7 L540.0,255.6 L540.6,244.1 L541.4,233.2 L542.0,221.4 L542.8,213.7 L543.5,207.9 L544.1,200.4 L544.9,206.0 L545.5,208.5 L546.2,213.5 L547.0,213.4 L547.6,205.0 L548.4,217.0 L549.0,229.3 L549.8,237.0 L550.5,244.7 L551.1,248.1 L551.9,257.1 L552.5,266.8 L553.2,276.2 L554.0,287.0 L554.6,293.3 L555.4,302.6 L556.0,306.2 L556.8,311.2 L557.5,317.8 L558.1,318.2 L558.9,320.5 L559.5,321.2 L560.2,321.8 L561.0,322.0 L561.6,320.9 L562.4,321.5 L563.0,321.7 L563.8,321.1 L564.5,322.0 L565.1,320.2 L565.9,320.8 L566.5,320.0 L567.2,319.8 L568.0,319.6 L568.6,319.3 L569.4,319.3 L570.0,319.4 L570.8,317.1 L571.5,314.4 L572.1,314.0 L572.9,315.2 L573.5,317.7 L574.2,334.5 L574.2,334.5 Z"/><path d="M588.0,334.5 L588.0,334.5 L588.7,331.0 L589.4,327.3 L590.1,323.5 L590.8,320.1 L591.5,316.8 L592.2,313.5 L592.9,309.9 L593.6,306.5 L594.3,304.6 L595.1,300.4 L595.8,296.1 L596.5,293.4 L597.2,291.7 L597.9,288.7 L598.6,283.4 L599.3,277.1 L600.0,275.2 L600.7,265.9 L601.4,261.2 L602.1,250.3 L602.8,245.0 L603.5,252.6 L604.2,252.3 L604.9,253.7 L605.6,253.5 L606.3,256.4 L607.0,258.8 L607.7,258.6 L608.4,257.8 L609.2,257.9 L609.9,261.5 L610.6,263.6 L611.3,265.0 L612.0,266.6 L612.7,270.4 L613.4,274.9 L614.1,279.1 L614.8,297.8 L615.5,334.5 L615.5,334.5 Z"/><path d="M628.0,334.5 L628.0,334.5 L628.8,329.3 L629.5,323.5 L630.2,321.4 L631.0,325.7 L631.8,330.2 L632.5,334.5 L632.5,334.5 Z"/><path d="M637.0,334.5 L637.0,334.5 L637.7,319.7 L638.4,307.2 L639.1,300.4 L639.9,301.3 L640.6,300.3 L641.3,299.3 L642.0,299.0 L642.7,300.3 L643.4,301.1 L644.1,300.5 L644.9,302.6 L645.6,304.0 L646.3,307.5 L647.0,334.5 L647.0,334.5 Z"/><path d="M724.5,334.5 L724.5,334.5 L725.2,329.6 L725.9,325.0 L726.6,322.4 L727.3,322.6 L728.0,323.6 L728.7,324.4 L729.4,325.1 L730.1,324.0 L730.9,322.6 L731.6,321.3 L732.3,318.5 L733.0,317.9 L733.7,315.5 L734.4,313.3 L735.1,311.2 L735.8,309.7 L736.5,306.7 L737.2,311.6 L737.9,313.9 L738.6,317.0 L739.3,319.1 L740.0,319.5 L740.7,320.1 L741.4,320.7 L742.2,322.2 L742.9,322.1 L743.6,321.9 L744.3,321.1 L745.0,321.9 L745.7,320.1 L746.4,320.5 L747.1,321.9 L747.8,324.1 L748.5,324.8 L749.2,323.5 L749.9,320.8 L750.6,320.0 L751.3,316.4 L752.0,298.3 L752.7,282.2 L753.4,269.5 L754.2,257.1 L754.9,247.6 L755.6,232.7 L756.3,214.2 L757.0,205.5 L757.7,195.6 L758.4,184.7 L759.1,176.3 L759.8,170.1 L760.5,164.0 L761.2,151.9 L761.9,146.5 L762.6,136.2 L763.3,131.3 L764.0,121.5 L764.7,118.1 L765.5,114.6 L766.2,120.3 L766.9,126.3 L767.6,128.2 L768.3,139.7 L769.0,152.1 L769.7,163.2 L770.4,177.8 L771.1,192.7 L771.8,240.7 L772.5,258.3 L773.2,272.5 L773.9,278.9 L774.6,283.9 L775.3,292.5 L776.0,312.1 L776.8,334.5 L776.8,334.5 Z"/><path d="M852.5,334.5 L852.5,334.5 L853.2,314.9 L854.0,293.9 L854.7,279.4 L855.4,277.5 L856.1,275.2 L856.9,275.8 L857.6,271.2 L858.3,265.8 L859.0,263.6 L859.8,262.5 L860.5,268.6 L861.2,271.8 L861.9,275.7 L862.6,278.0 L863.4,281.3 L864.1,277.6 L864.8,274.3 L865.5,271.9 L866.3,294.6 L867.0,334.5 L867.0,334.5 Z"/><path d="M868.0,334.5 L868.0,334.5 L868.7,328.9 L869.4,323.0 L870.1,324.1 L870.8,327.2 L871.5,326.8 L872.2,325.9 L872.9,316.6 L873.6,304.5 L874.3,284.1 L875.0,269.8 L875.7,264.3 L876.4,255.8 L877.1,247.2 L877.8,225.5 L878.5,208.2 L879.2,194.5 L879.9,180.9 L880.6,159.4 L881.3,141.9 L882.0,132.0 L882.8,123.0 L883.5,109.3 L884.2,105.8 L884.9,110.8 L885.6,118.4 L886.3,118.3 L887.0,128.7 L887.7,127.3 L888.4,132.7 L889.1,133.9 L889.8,136.5 L890.5,137.9 L891.2,137.8 L891.9,163.7 L892.6,203.5 L893.3,226.6 L894.0,246.0 L894.7,259.7 L895.4,281.7 L896.1,297.0 L896.8,314.9 L897.5,334.5 L897.5,334.5 Z"/><path d="M979.5,334.5 L979.5,334.5 L980.2,321.9 L981.0,309.9 L981.7,302.7 L982.4,296.6 L983.1,290.6 L983.9,296.0 L984.6,294.5 L985.3,292.1 L986.0,298.1 L986.8,296.2 L987.5,334.5 L987.5,334.5 Z"/></g>
<g fill="#dd2828" fill-opacity="0.8"><path d="M152.4,334.5 L152.4,334.5 L153.1,507.8 L153.8,512.3 L154.5,515.8 L155.2,524.3 L155.9,527.3 L156.6,529.2 L157.3,529.7 L158.0,527.3 L158.7,519.8 L159.4,511.9 L160.1,507.5 L160.9,505.0 L161.6,493.9 L162.3,479.1 L163.0,473.2 L163.7,459.3 L164.4,450.3 L165.1,432.8 L165.8,413.5 L166.5,398.1 L167.2,380.2 L167.9,376.0 L168.6,372.8 L169.3,366.6 L170.0,366.4 L170.7,358.5 L171.4,354.1 L172.1,348.0 L172.8,346.2 L173.5,349.7 L174.2,351.7 L174.9,355.7 L175.6,358.9 L176.3,361.1 L177.1,369.1 L177.8,369.5 L178.5,369.7 L179.2,372.8 L179.9,373.9 L180.6,374.4 L181.3,372.8 L182.0,374.5 L182.7,378.2 L183.4,379.1 L184.1,377.7 L184.8,380.6 L185.5,381.4 L186.2,383.7 L186.9,378.5 L187.6,378.3 L188.3,374.2 L189.0,373.9 L189.7,370.6 L190.4,368.4 L191.1,372.1 L191.8,373.5 L192.5,376.3 L193.3,374.7 L194.0,377.7 L194.7,381.2 L195.4,379.6 L196.1,373.2 L196.8,369.3 L197.5,366.6 L198.2,369.6 L198.9,376.2 L199.6,382.4 L200.3,383.1 L201.0,376.9 L201.7,381.4 L202.4,379.5 L203.1,378.1 L203.8,377.2 L204.5,375.3 L205.2,382.0 L205.9,379.2 L206.6,367.7 L207.3,357.8 L208.0,346.5 L208.8,334.5 L208.8,334.5 Z"/><path d="M308.8,334.5 L308.8,334.5 L309.5,339.3 L310.3,343.8 L311.1,348.1 L311.9,352.5 L312.7,355.7 L313.4,348.0 L314.2,342.0 L315.0,334.5 L315.0,334.5 Z"/><path d="M341.0,334.5 L341.0,334.5 L341.7,355.7 L342.4,375.4 L343.1,372.2 L343.9,365.2 L344.6,358.4 L345.3,356.7 L346.0,360.0 L346.7,364.9 L347.4,367.0 L348.1,368.9 L348.9,373.6 L349.6,373.9 L350.3,377.9 L351.0,374.6 L351.7,377.5 L352.4,378.9 L353.1,382.9 L353.9,385.3 L354.6,385.4 L355.3,384.1 L356.0,381.4 L356.7,376.7 L357.4,369.9 L358.1,365.8 L358.9,365.3 L359.6,362.5 L360.3,359.8 L361.0,358.5 L361.7,354.4 L362.4,350.2 L363.1,347.0 L363.9,344.3 L364.6,340.9 L365.3,337.6 L366.0,334.5 L366.0,334.5 Z"/><path d="M390.8,334.5 L390.8,334.5 L391.5,343.1 L392.2,350.8 L392.9,356.7 L393.6,363.4 L394.3,365.2 L395.0,367.0 L395.7,369.2 L396.4,373.7 L397.2,370.9 L397.9,375.7 L398.6,371.5 L399.3,364.8 L400.0,363.1 L400.7,358.8 L401.4,355.4 L402.1,350.3 L402.9,347.6 L403.6,343.3 L404.3,338.9 L405.0,334.5 L405.0,334.5 Z"/><path d="M407.0,334.5 L407.0,334.5 L407.7,340.4 L408.4,345.7 L409.1,347.1 L409.8,342.6 L410.5,338.5 L411.2,334.5 L411.2,334.5 Z"/><path d="M459.5,334.5 L459.5,334.5 L460.2,353.6 L460.9,372.2 L461.6,381.8 L462.4,390.3 L463.1,396.2 L463.8,402.0 L464.5,400.8 L465.2,404.4 L465.9,403.6 L466.6,403.7 L467.4,403.7 L468.1,404.4 L468.8,403.1 L469.5,403.3 L470.2,399.7 L470.9,399.2 L471.6,381.8 L472.4,369.6 L473.1,358.1 L473.8,346.6 L474.5,334.5 L474.5,334.5 Z"/><path d="M510.0,334.5 L510.0,334.5 L510.7,339.6 L511.4,345.2 L512.1,349.9 L512.9,353.5 L513.6,356.0 L514.3,358.2 L515.0,362.3 L515.7,361.4 L516.4,364.5 L517.2,368.7 L517.9,370.5 L518.6,376.7 L519.3,379.5 L520.0,389.4 L520.7,393.4 L521.4,398.7 L522.2,395.1 L522.9,392.6 L523.6,388.2 L524.3,388.6 L525.0,391.3 L525.7,395.0 L526.5,392.0 L527.2,392.5 L527.9,386.1 L528.6,390.0 L529.3,389.2 L530.0,384.4 L530.7,385.9 L531.5,376.8 L532.2,372.2 L532.9,365.9 L533.6,360.7 L534.3,352.4 L535.0,343.2 L535.8,334.5 L535.8,334.5 Z"/><path d="M574.2,334.5 L574.2,334.5 L575.0,336.7 L575.7,339.4 L576.4,341.7 L577.1,343.5 L577.9,345.6 L578.6,346.8 L579.3,348.2 L580.0,348.8 L580.8,349.4 L581.5,350.4 L582.2,350.9 L582.9,353.6 L583.7,354.5 L584.4,355.3 L585.1,358.6 L585.8,358.4 L586.6,360.2 L587.3,354.4 L588.0,334.5 L588.0,334.5 Z"/><path d="M617.5,334.5 L617.5,334.5 L618.2,337.3 L618.9,340.4 L619.6,343.1 L620.4,346.5 L621.1,350.5 L621.8,351.1 L622.5,348.5 L623.2,348.1 L623.9,346.6 L624.6,344.1 L625.4,342.4 L626.1,339.6 L626.8,337.1 L627.5,334.5 L627.5,334.5 Z"/><path d="M633.0,334.5 L633.0,334.5 L633.8,339.8 L634.5,334.5 L634.5,334.5 Z"/><path d="M646.2,334.5 L646.2,334.5 L647.0,340.6 L647.7,344.4 L648.4,344.5 L649.1,343.2 L649.8,342.6 L650.5,350.5 L651.2,360.7 L651.9,375.0 L652.6,380.5 L653.3,382.6 L654.0,384.8 L654.7,388.6 L655.4,386.3 L656.1,391.0 L656.8,387.9 L657.5,386.7 L658.2,387.2 L658.9,391.3 L659.6,396.5 L660.4,376.0 L661.1,361.0 L661.8,356.0 L662.5,357.1 L663.2,359.4 L663.9,362.1 L664.6,363.9 L665.3,366.2 L666.0,368.9 L666.7,370.8 L667.4,367.9 L668.1,376.2 L668.8,379.2 L669.5,381.7 L670.2,387.9 L670.9,395.6 L671.6,397.2 L672.3,406.0 L673.0,414.3 L673.8,417.9 L674.5,437.7 L675.2,449.7 L675.9,456.2 L676.6,461.0 L677.3,463.7 L678.0,467.9 L678.7,467.9 L679.4,465.8 L680.1,469.0 L680.8,469.1 L681.5,472.9 L682.2,489.4 L682.9,508.7 L683.6,514.6 L684.3,520.1 L685.0,508.3 L685.7,505.3 L686.4,494.3 L687.1,474.1 L687.9,460.8 L688.6,448.1 L689.3,447.8 L690.0,439.9 L690.7,437.3 L691.4,428.7 L692.1,424.6 L692.8,420.1 L693.5,413.1 L694.2,404.1 L694.9,394.6 L695.6,378.6 L696.3,378.6 L697.0,371.9 L697.7,368.2 L698.4,363.0 L699.1,359.6 L699.8,354.7 L700.5,345.8 L701.2,334.5 L701.2,334.5 Z"/><path d="M705.5,334.5 L705.5,334.5 L706.3,340.2 L707.1,344.4 L707.9,339.0 L708.8,334.5 L708.8,334.5 Z"/><path d="M711.2,334.5 L711.2,334.5 L712.0,347.8 L712.7,356.5 L713.4,356.8 L714.1,355.0 L714.9,354.6 L715.6,354.4 L716.3,355.2 L717.0,353.2 L717.8,352.6 L718.5,351.5 L719.2,350.4 L719.9,350.0 L720.7,351.0 L721.4,353.4 L722.1,353.8 L722.8,354.3 L723.6,348.9 L724.3,342.2 L725.0,334.5 L725.0,334.5 Z"/><path d="M777.0,334.5 L777.0,334.5 L777.7,344.9 L778.4,353.1 L779.1,359.8 L779.8,364.6 L780.5,379.0 L781.2,394.5 L781.9,400.5 L782.6,403.1 L783.4,407.4 L784.1,413.0 L784.8,456.5 L785.5,424.2 L786.2,426.1 L786.9,427.0 L787.6,429.8 L788.3,441.5 L789.0,446.4 L789.7,456.2 L790.4,465.0 L791.1,468.4 L791.8,479.4 L792.5,480.2 L793.2,491.6 L793.9,495.6 L794.6,502.8 L795.3,499.9 L796.1,500.4 L796.8,512.9 L797.5,516.5 L798.2,508.6 L798.9,504.9 L799.6,508.3 L800.3,503.1 L801.0,500.8 L801.7,494.8 L802.4,488.4 L803.1,480.9 L803.8,483.1 L804.5,474.4 L805.2,465.5 L805.9,460.1 L806.6,455.6 L807.3,448.8 L808.0,459.8 L808.8,458.3 L809.5,461.6 L810.2,459.8 L810.9,445.2 L811.6,402.1 L812.3,402.2 L813.0,397.5 L813.7,395.1 L814.4,387.9 L815.1,381.1 L815.8,379.1 L816.5,372.8 L817.2,366.6 L817.9,364.3 L818.6,361.3 L819.3,355.9 L820.0,353.0 L820.7,347.8 L821.5,344.6 L822.2,342.7 L822.9,341.6 L823.6,340.3 L824.3,343.3 L825.0,347.5 L825.7,352.3 L826.4,353.4 L827.1,354.6 L827.8,354.1 L828.5,353.2 L829.2,353.0 L829.9,351.5 L830.6,351.2 L831.3,349.2 L832.0,344.6 L832.7,339.2 L833.4,337.3 L834.2,336.4 L834.9,335.8 L835.6,338.2 L836.3,341.5 L837.0,345.0 L837.7,346.9 L838.4,345.3 L839.1,344.3 L839.8,342.9 L840.5,343.6 L841.2,345.6 L841.9,347.2 L842.6,349.6 L843.3,350.6 L844.0,354.0 L844.7,353.8 L845.4,355.4 L846.1,354.8 L846.9,356.9 L847.6,357.5 L848.3,359.6 L849.0,360.7 L849.7,359.6 L850.4,363.4 L851.1,354.5 L851.8,348.0 L852.5,334.5 L852.5,334.5 Z"/><path d="M898.8,334.5 L898.8,334.5 L899.5,351.3 L900.2,353.0 L900.9,355.4 L901.6,355.5 L902.3,356.1 L903.0,362.0 L903.7,370.1 L904.4,380.5 L905.1,375.6 L905.8,365.3 L906.5,360.9 L907.2,360.9 L907.9,363.8 L908.6,366.2 L909.3,365.6 L910.0,363.0 L910.7,361.8 L911.4,358.5 L912.1,356.0 L912.8,347.5 L913.5,351.5 L914.2,355.9 L914.9,354.7 L915.6,355.4 L916.3,353.4 L917.0,350.8 L917.7,350.9 L918.4,359.2 L919.1,366.3 L919.8,374.6 L920.5,381.1 L921.2,383.2 L921.9,385.2 L922.6,382.1 L923.3,379.0 L924.0,375.0 L924.7,374.3 L925.4,374.1 L926.1,370.6 L926.8,371.6 L927.5,376.2 L928.2,374.5 L928.9,377.9 L929.6,380.2 L930.3,380.2 L931.0,378.7 L931.7,367.7 L932.4,357.7 L933.1,362.5 L933.8,368.3 L934.5,374.0 L935.2,378.9 L935.9,381.6 L936.6,390.8 L937.3,388.9 L938.0,393.6 L938.8,401.9 L939.5,399.6 L940.2,409.6 L940.9,410.5 L941.6,405.5 L942.3,406.1 L943.0,404.3 L943.7,407.4 L944.4,411.6 L945.1,414.3 L945.8,418.2 L946.5,421.5 L947.2,427.2 L947.9,428.5 L948.6,429.4 L949.3,430.4 L950.0,433.8 L950.7,419.2 L951.4,414.7 L952.1,403.7 L952.8,412.6 L953.5,424.5 L954.2,427.9 L954.9,436.0 L955.6,446.5 L956.3,456.8 L957.0,473.2 L957.7,485.3 L958.4,474.0 L959.1,452.4 L959.8,438.9 L960.5,437.6 L961.2,433.2 L961.9,421.1 L962.6,406.9 L963.3,405.4 L964.0,414.8 L964.7,417.0 L965.4,416.6 L966.1,413.6 L966.8,409.6 L967.5,407.4 L968.2,395.5 L968.9,383.9 L969.6,368.1 L970.3,351.3 L971.0,342.3 L971.7,339.0 L972.4,345.2 L973.1,358.7 L973.8,367.3 L974.5,363.9 L975.2,363.0 L975.9,361.4 L976.6,358.4 L977.3,350.6 L978.0,344.0 L978.8,334.5 L978.8,334.5 Z"/></g>
<rect x="213.5" y="332.9" width="96.0" height="1.8" fill="#64ba50"/><rect x="316.5" y="332.9" width="24.69999999999999" height="1.8" fill="#64ba50"/><rect x="367.5" y="332.9" width="22.0" height="1.8" fill="#64ba50"/><rect x="404.5" y="332.9" width="2.5" height="1.8" fill="#64ba50"/><rect x="410.5" y="332.9" width="47.5" height="1.8" fill="#64ba50"/><rect x="474.5" y="332.9" width="35.5" height="1.8" fill="#64ba50"/><rect x="535.75" y="332.9" width="38.5" height="1.8" fill="#64ba50"/><rect x="588" y="332.9" width="29.5" height="1.8" fill="#64ba50"/><rect x="627.5" y="332.9" width="18.75" height="1.8" fill="#64ba50"/><rect x="701.25" y="332.9" width="4.25" height="1.8" fill="#64ba50"/><rect x="708.75" y="332.9" width="2.5" height="1.8" fill="#64ba50"/><rect x="724.5" y="332.9" width="52.5" height="1.8" fill="#64ba50"/><rect x="852.5" y="332.9" width="45.0" height="1.8" fill="#64ba50"/><rect x="979.5" y="332.9" width="8.0" height="1.8" fill="#64ba50"/><rect x="152.4" y="334.3" width="61.099999999999994" height="1.9" fill="#e45353"/><rect x="309.5" y="334.3" width="7.0" height="1.9" fill="#e45353"/><rect x="341.2" y="334.3" width="26.30000000000001" height="1.9" fill="#e45353"/><rect x="389.5" y="334.3" width="15.0" height="1.9" fill="#e45353"/><rect x="407" y="334.3" width="3.5" height="1.9" fill="#e45353"/><rect x="458" y="334.3" width="16.5" height="1.9" fill="#e45353"/><rect x="510" y="334.3" width="25.75" height="1.9" fill="#e45353"/><rect x="574.25" y="334.3" width="13.75" height="1.9" fill="#e45353"/><rect x="617.5" y="334.3" width="10.0" height="1.9" fill="#e45353"/><rect x="646.25" y="334.3" width="55.0" height="1.9" fill="#e45353"/><rect x="705.5" y="334.3" width="3.25" height="1.9" fill="#e45353"/><rect x="711.25" y="334.3" width="13.25" height="1.9" fill="#e45353"/><rect x="777" y="334.3" width="75.5" height="1.9" fill="#e45353"/><rect x="897.5" y="334.3" width="82.0" height="1.9" fill="#e45353"/>
<line x1="92.6" x2="92.6" y1="82.5" y2="550.5" stroke="#a3a0cd" stroke-width="2.2"/>
<line x1="146.5" x2="146.5" y1="82.5" y2="550.5" stroke="#a0bd9d" stroke-width="1.9"/>
<line x1="993.8" x2="993.8" y1="82.5" y2="551" stroke="#3a3a3a" stroke-width="1.7"/>
<text x="1004.5" y="145.1" class="ax">100K</text><text x="1004.5" y="163.35" class="ax">90K</text><text x="1004.5" y="184.6" class="ax">80K</text><text x="1004.5" y="208.1" class="ax">70K</text><text x="1004.5" y="235.6" class="ax">60K</text><text x="1004.5" y="268.35" class="ax">50K</text><text x="1004.5" y="307.6" class="ax">40K</text><text x="1004.5" y="359.6" class="ax">30K</text><text x="1004.5" y="431.6" class="ax">20K</text><text x="1004.5" y="555.35" class="ax">10K</text><text x="81.3" y="132.1" class="ax" text-anchor="end">15.6M</text><text x="81.3" y="237.6" class="ax" text-anchor="end">14.4M</text><text x="81.3" y="344.1" class="ax" text-anchor="end">13.2M</text><text x="81.3" y="450.1" class="ax" text-anchor="end">12M</text><text x="81.3" y="555.35" class="ax" text-anchor="end">10.8M</text><text x="136.3" y="112.1" class="ax" text-anchor="end">1M</text><text x="136.3" y="225.1" class="ax" text-anchor="end">500K</text><text x="136.3" y="338.35" class="ax" text-anchor="end">0</text><text x="136.3" y="451.35" class="ax" text-anchor="end">-500K</text>
<text transform="translate(36.8,317.5) rotate(-90)" class="ax" text-anchor="middle" textLength="67.5" lengthAdjust="spacingAndGlyphs">LTH Supply</text>
<text transform="translate(1043.5,317) rotate(90)" class="ax" text-anchor="middle" textLength="78" lengthAdjust="spacingAndGlyphs">BTC price ($)</text>
<text x="370" y="36.3" class="ttl" textLength="336" lengthAdjust="spacingAndGlyphs">LTH supply change (Coinbase fix)</text>
<line x1="343.8" x2="358.8" y1="60" y2="60" stroke="#8783c2" stroke-width="1.5"/>
<text x="363.8" y="63.8" class="lg" textLength="66" lengthAdjust="spacingAndGlyphs">LTH Supply</text>
<line x1="446.3" x2="461.3" y1="60" y2="60" stroke="#111" stroke-width="1.7"/>
<text x="465" y="63.8" class="lg" textLength="75" lengthAdjust="spacingAndGlyphs">BTC price($)</text>
<circle cx="562.5" cy="57.7" r="6.3" fill="#64ba50"/>
<text x="574.3" y="63.8" class="lg" textLength="165.5" lengthAdjust="spacingAndGlyphs">LTH Supply change 30-dma</text>
<g id="bn" transform="translate(767,534.4)" fill="#fcfcfc" stroke="#cdcdcd" stroke-width="1.1" stroke-linejoin="round">
<path d="M0,-14 L8.6,-5.4 L5.4,-2.2 L0,-7.6 L-5.4,-2.2 L-8.6,-5.4 Z"/>
<path d="M0,14 L8.6,5.4 L5.4,2.2 L0,7.6 L-5.4,2.2 L-8.6,5.4 Z"/>
<path d="M-14,0 L-10.8,-3.2 L-7.6,0 L-10.8,3.2 Z"/>
<path d="M14,0 L10.8,-3.2 L7.6,0 L10.8,3.2 Z"/>
<path d="M0,-3.2 L3.2,0 L0,3.2 L-3.2,0 Z"/>
</g>
<text x="787.1" y="542.3" class="bws" textLength="19.6" lengthAdjust="spacingAndGlyphs">@</text>
<text x="786.5" y="541.7" class="bw" textLength="19.6" lengthAdjust="spacingAndGlyphs">@</text>
<text x="814.4" y="543.6" class="bws" textLength="258.5" lengthAdjust="spacingAndGlyphs">Sam catching real mo...</text>
<text x="813.8" y="543" class="bw" textLength="258.5" lengthAdjust="spacingAndGlyphs">Sam catching real mo...</text>
</g>
</svg>
</body></html>
